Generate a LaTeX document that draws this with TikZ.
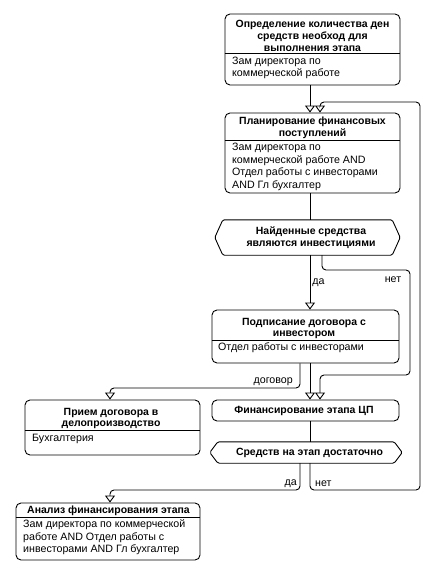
\documentclass[tikz,border=0pt]{standalone}
\usepackage{fontspec}
\setmainfont{Liberation Sans}
\usetikzlibrary{arrows.meta}
\begin{document}
\begin{tikzpicture}[x=1bp,y=-1bp,
  font=\fontsize{10.7}{12.6}\selectfont,
  box/.style={draw, rounded corners=5bp, line width=0.9bp, inner sep=0},
  dec/.style={inner sep=0},
  hexa/.style={line width=0.9bp, rounded corners=1.5bp},
  sep/.style={line width=0.9bp},
  ttl/.style={font=\fontsize{10.5}{12}\selectfont\bfseries, align=center, inner sep=0},
  txt/.style={align=left, anchor=west, inner sep=0},
  lbl/.style={inner sep=0},
  conn/.style={line width=0.9bp, rounded corners=4bp},
  arr/.style={conn, -{Triangle[open, length=7bp, width=10bp, line width=0.9bp]}}
]
\fill[white] (0,0) rectangle (435,575);
\useasboundingbox (0,0) rectangle (435,575);

% boxes
\node[box, minimum width=175bp, minimum height=71bp] (b1) at (312.5,49.5) {};
\node[box, minimum width=175bp, minimum height=80bp] (b2) at (312.5,153) {};
\node[dec, minimum width=185bp, minimum height=35bp] (d1) at (307.5,237.5) {};
\node[box, minimum width=187bp, minimum height=53bp] (b3) at (305.5,336.5) {};
\node[box, minimum width=175bp, minimum height=55bp] (b4) at (112.5,427.5) {};
\node[box, minimum width=187bp, minimum height=21bp] (b5) at (305.5,410.5) {};
\node[dec, minimum width=192bp, minimum height=21bp] (d2) at (306,452.5) {};
\node[box, minimum width=184bp, minimum height=57bp] (b6) at (108,531.5) {};

% hexagons
\draw[hexa] (d1.west) -- ([xshift=8bp]d1.north west) -- ([xshift=-8bp]d1.north east) -- (d1.east) -- ([xshift=-8bp]d1.south east) -- ([xshift=8bp]d1.south west) -- cycle;
\draw[hexa] (d2.west) -- ([xshift=8bp]d2.north west) -- ([xshift=-8bp]d2.north east) -- (d2.east) -- ([xshift=-8bp]d2.south east) -- ([xshift=8bp]d2.south west) -- cycle;

% separators
\draw[sep] (b1.west |- 0,53) -- (b1.east |- 0,53);
\draw[sep] (b2.west |- 0,140) -- (b2.east |- 0,140);
\draw[sep] (b3.west |- 0,340) -- (b3.east |- 0,340);
\draw[sep] (b4.west |- 0,430) -- (b4.east |- 0,430);
\draw[sep] (b6.west |- 0,517) -- (b6.east |- 0,517);

% texts
\node[ttl] (b1t) at (312.5,35.5) {Определение количества ден\\средств необход для\\выполнения этапа};
\node[txt] (b1b) at (232,68) {Зам директора по\\коммерческой работе};
\node[ttl] (b2t) at (312.5,128) {Планирование финансовых\\поступлений};
\node[txt] (b2b) at (232,167) {Зам директора по\\коммерческой работе AND\\Отдел работы с инвесторами\\AND Гл бухгалтер};
\node[ttl] (d1t) at (311,238) {Найденные средства\\являются инвестициями};
\node[ttl] (b3t) at (304,328.5) {Подписание договора с\\инвестором};
\node[txt] (b3b) at (218,347.5) {Отдел работы с инвесторами};
\node[ttl] (b4t) at (111,418.5) {Прием договора в\\делопроизводство};
\node[txt] (b4b) at (32,438.5) {Бухгалтерия};
\node[ttl] (b5t) at (304,410.5) {Финансирование этапа ЦП};
\node[ttl] (d2t) at (309.5,452.5) {Средств на этап достаточно};
\node[ttl] (b6t) at (108.5,511) {Анализ финансирования этапа};
\node[txt] (b6b) at (23,537.5) {Зам директора по коммерческой\\работе AND Отдел работы с\\инвесторами AND Гл бухгалтер};

% connectors
\draw[arr] (b1.south -| 310,0) -- (b2.north -| 310,0);
\draw[conn] (b2.south -| 310,0) -- (d1.north -| 310,0);
\draw[arr] (d1.south -| 310,0) -- node[lbl, anchor=west, pos=0.5, xshift=2bp] (l1) {да} (b3.north -| 310,0);
\draw[arr] (d1.south -| 322,0) -- (322,270) -- (410,270) -- (410,375) -- (320,375) -- (b5.north -| 320,0);
\node[lbl] (l2) at (393,280) {нет};
\draw[arr] (b3.south -| 310,0) -- (b5.north -| 310,0);
\draw[arr] (b3.south -| 300,0) -- (300,388) -- (110,388) -- (b4.north -| 110,0);
\node[lbl, anchor=east] (l3) at (293,381.5) {договор};
\draw[conn] (b5.south -| 310,0) -- (d2.north -| 310,0);
\draw[arr] (d2.south -| 300,0) -- (300,490) -- (110,490) -- (b6.north -| 110,0);
\node[lbl, anchor=east] (l4) at (297,483.5) {да};
\draw[arr] (d2.south -| 310,0) -- (310,490) -- (420,490) -- (420,102) -- (320,102) -- (b2.north -| 320,0);
\node[lbl, anchor=west] (l5) at (315,483.5) {нет};
\end{tikzpicture}
\end{document}
